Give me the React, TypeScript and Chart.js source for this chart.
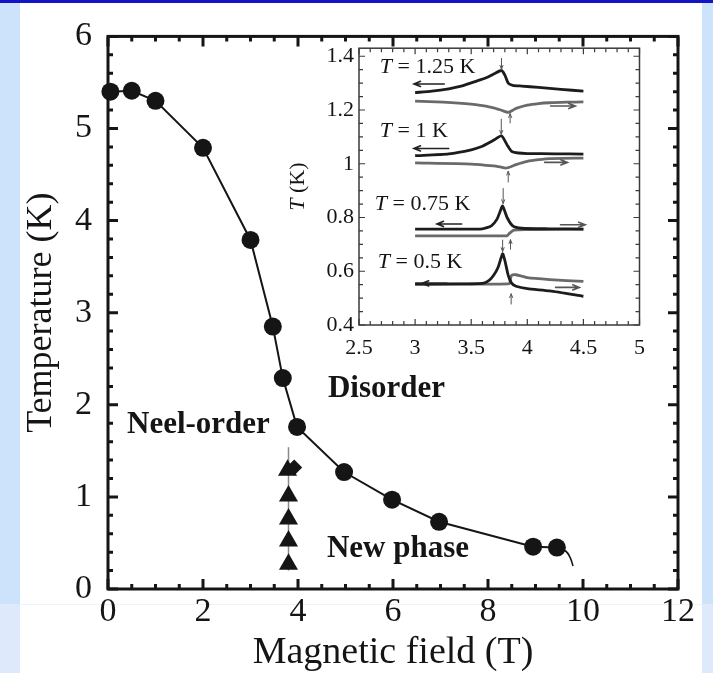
import React, { useEffect, useRef } from "react";
import { Chart, registerables } from "chart.js";

Chart.register(...registerables);

const SERIF = "'Liberation Serif', 'Times New Roman', serif";
const INK = "#151515";

// ---------- Main phase diagram ----------
const X_TICKS = [0, 2, 4, 6, 8, 10, 12];
const Y_TICKS = [0, 1, 2, 3, 4, 5, 6];

// Phase boundary of the ordered state (filled circles)
const BOUNDARY_FIELD = [0.05, 0.5, 1, 2, 3, 3.47, 3.68, 3.98, 4.97, 5.98, 6.97, 8.95, 9.45];
const BOUNDARY_TEMP = [5.4, 5.41, 5.3, 4.79, 3.79, 2.85, 2.29, 1.76, 1.27, 0.97, 0.73, 0.46, 0.45];

// Continuation of the boundary beyond the last measured point
const TAIL_FIELD = [9.45, 9.64, 9.73, 9.79];
const TAIL_TEMP = [0.45, 0.41, 0.34, 0.25];

// New-phase boundary (triangles) and the extra point at the top of the column
const NEW_FIELD = [3.8, 3.8, 3.8, 3.8, 3.78];
const NEW_TEMP = [0.27, 0.52, 0.76, 1.01, 1.29];
const EXTRA_FIELD = [3.92];
const EXTRA_TEMP = [1.32];
const GUIDE_FIELD = [3.8, 3.8];
const GUIDE_TEMP = [0.2, 1.54];

const REGION_LABELS = [
  { text: "Neel-order", x: 0.4, y: 1.785 },
  { text: "Disorder", x: 4.63, y: 2.175 },
  { text: "New phase", x: 4.61, y: 0.433 },
];

// ---------- Inset: field sweeps at fixed temperature ----------
const INSET_X_TICKS = [2.5, 3, 3.5, 4, 4.5, 5];
const INSET_X_LABELS = ["2.5", "3", "3.5", "4", "4.5", "5"];
const INSET_Y_TICKS = [0.4, 0.6, 0.8, 1.0, 1.2, 1.4];
const INSET_Y_LABELS = ["0.4", "0.6", "0.8", "1", "1.2", "1.4"];

// T = 1.25 K
const H_125_DOWN = [3.0, 3.15, 3.3, 3.42, 3.5, 3.58, 3.65, 3.71, 3.77, 3.8, 3.83, 3.87, 3.95, 4.1, 4.3, 4.5];
const T_125_DOWN = [1.265, 1.27, 1.279, 1.29, 1.301, 1.312, 1.323, 1.336, 1.347, 1.33, 1.3, 1.292, 1.289, 1.284, 1.277, 1.27];
const H_125_UP = [3.0, 3.25, 3.5, 3.6, 3.7, 3.77, 3.83, 3.87, 3.9, 4.0, 4.1, 4.2, 4.35, 4.5];
const T_125_UP = [1.233, 1.229, 1.222, 1.216, 1.208, 1.199, 1.191, 1.199, 1.206, 1.218, 1.224, 1.227, 1.229, 1.23];

// T = 1 K
const H_100_DOWN = [3.0, 3.3, 3.5, 3.6, 3.65, 3.71, 3.77, 3.82, 3.86, 3.92, 4.0, 4.25, 4.5];
const T_100_DOWN = [1.03, 1.037, 1.052, 1.065, 1.076, 1.09, 1.104, 1.07, 1.046, 1.04, 1.038, 1.037, 1.036];
const H_100_UP = [3.0, 3.5, 3.7, 3.76, 3.81, 3.86, 3.9, 4.0, 4.1, 4.2, 4.5];
const T_100_UP = [1.003, 0.999, 0.992, 0.988, 0.984, 0.99, 0.997, 1.009, 1.015, 1.019, 1.021];

// T = 0.75 K
const H_075_DOWN = [3.0, 3.3, 3.6, 3.68, 3.73, 3.76, 3.78, 3.82, 3.87, 3.95, 4.2, 4.5];
const T_075_DOWN = [0.757, 0.757, 0.758, 0.769, 0.794, 0.825, 0.843, 0.8, 0.769, 0.76, 0.758, 0.757];
const H_075_UP = [3.0, 3.4, 3.82, 3.84, 3.88, 4.0, 4.5];
const T_075_UP = [0.732, 0.732, 0.732, 0.741, 0.753, 0.755, 0.757];

// T = 0.5 K
const H_050_DOWN = [3.0, 3.3, 3.6, 3.66, 3.7, 3.74, 3.78, 3.8, 3.83, 3.86, 3.9, 4.0, 4.2, 4.5];
const T_050_DOWN = [0.554, 0.553, 0.555, 0.566, 0.585, 0.615, 0.665, 0.64, 0.585, 0.556, 0.544, 0.535, 0.527, 0.507];
const H_050_UP = [3.0, 3.4, 3.84, 3.85, 3.86, 3.9, 4.0, 4.2, 4.5];
const T_050_UP = [0.55, 0.552, 0.554, 0.572, 0.585, 0.587, 0.576, 0.569, 0.562];

const SWEEP_LABELS = [
  { temp: "1.25", x: 2.685, y: 1.359 },
  { temp: "1", x: 2.685, y: 1.12 },
  { temp: "0.75", x: 2.641, y: 0.85 },
  { temp: "0.5", x: 2.667, y: 0.632 },
];

// Sweep direction arrows: [fromH, toH, T]
const DOWN_SWEEP_ARROWS = [
  [3.26, 2.99, 1.297],
  [3.3, 2.99, 1.057],
  [3.415, 3.195, 0.776],
  [3.283, 3.063, 0.555],
];
const UP_SWEEP_ARROWS = [
  [4.208, 4.428, 1.215],
  [4.155, 4.357, 1.005],
  [4.296, 4.516, 0.773],
  [4.252, 4.463, 0.54],
];
// Small pointers at the anomalies: [H, fromT, toT]
const ANOMALY_POINTERS = [
  [3.77, 1.392, 1.352],
  [3.847, 1.152, 1.186],
  [3.768, 1.166, 1.11],
  [3.83, 0.932, 0.972],
  [3.785, 0.908, 0.852],
  [3.85, 0.682, 0.717],
  [3.78, 0.716, 0.674],
  [3.856, 0.478, 0.516],
];

const zip = (xs: number[], ys: number[]) => xs.map((x, i) => ({ x, y: ys[i] }));

type FrameSpec = {
  color: string;
  frameWidth: number;
  tickWidth: number;
  majorLen: number;
  minorLen: number;
  xMajor: number;
  xMinor: number;
  yMajor: number;
  yMinor: number;
};

function drawFrame(chart: any, spec: FrameSpec) {
  const { ctx, chartArea: a } = chart;
  const xs = chart.scales.x;
  const ys = chart.scales.y;
  ctx.save();
  ctx.strokeStyle = spec.color;
  ctx.lineWidth = spec.tickWidth;
  ctx.lineCap = "butt";
  const isMajor = (v: number, min: number, step: number) => {
    const q = (v - min) / step;
    return Math.abs(q - Math.round(q)) < 1e-6;
  };
  const nx = Math.round((xs.max - xs.min) / spec.xMinor);
  for (let i = 0; i <= nx; i++) {
    const v = xs.min + i * spec.xMinor;
    const px = xs.getPixelForValue(v);
    const len = isMajor(v, xs.min, spec.xMajor) ? spec.majorLen : spec.minorLen;
    ctx.beginPath();
    ctx.moveTo(px, a.bottom);
    ctx.lineTo(px, a.bottom - len);
    ctx.moveTo(px, a.top);
    ctx.lineTo(px, a.top + len);
    ctx.stroke();
  }
  const ny = Math.floor((ys.max - ys.min) / spec.yMinor + 1e-6);
  for (let i = 0; i <= ny; i++) {
    const v = ys.min + i * spec.yMinor;
    const py = ys.getPixelForValue(v);
    const len = isMajor(v, ys.min, spec.yMajor) ? spec.majorLen : spec.minorLen;
    ctx.beginPath();
    ctx.moveTo(a.left, py);
    ctx.lineTo(a.left + len, py);
    ctx.moveTo(a.right, py);
    ctx.lineTo(a.right - len, py);
    ctx.stroke();
  }
  ctx.lineWidth = spec.frameWidth;
  ctx.strokeRect(a.left, a.top, a.right - a.left, a.bottom - a.top);
  ctx.restore();
}

// Writes an italic "T" followed by upright text
function drawItalicT(ctx: CanvasRenderingContext2D, x: number, y: number, rest: string, size: number, align: "left" | "center") {
  ctx.font = `italic ${size}px ${SERIF}`;
  const wT = ctx.measureText("T").width;
  ctx.font = `${size}px ${SERIF}`;
  const wR = ctx.measureText(rest).width;
  let start = x;
  if (align === "center") start = x - (wT + wR) / 2;
  ctx.textAlign = "left";
  ctx.textBaseline = "middle";
  ctx.font = `italic ${size}px ${SERIF}`;
  ctx.fillText("T", start, y);
  ctx.font = `${size}px ${SERIF}`;
  ctx.fillText(rest, start + wT, y);
}

function drawArrow(ctx: CanvasRenderingContext2D, x1: number, y1: number, x2: number, y2: number, head: number) {
  const ang = Math.atan2(y2 - y1, x2 - x1);
  ctx.beginPath();
  ctx.moveTo(x1, y1);
  ctx.lineTo(x2, y2);
  ctx.moveTo(x2 - head * Math.cos(ang - 0.38), y2 - head * Math.sin(ang - 0.38));
  ctx.lineTo(x2, y2);
  ctx.lineTo(x2 - head * Math.cos(ang + 0.38), y2 - head * Math.sin(ang + 0.38));
  ctx.stroke();
}

const mainDecor = {
  id: "mainDecor",
  beforeDatasetsDraw(chart: any) {
    drawFrame(chart, {
      color: INK,
      frameWidth: 3,
      tickWidth: 3,
      majorLen: 10,
      minorLen: 5,
      xMajor: 2,
      xMinor: 0.5,
      yMajor: 1,
      yMinor: 0.2,
    });
  },
  afterDatasetsDraw(chart: any) {
    const { ctx } = chart;
    const xs = chart.scales.x;
    const ys = chart.scales.y;
    ctx.save();
    ctx.fillStyle = INK;
    ctx.font = `bold 31px ${SERIF}`;
    ctx.textAlign = "left";
    ctx.textBaseline = "middle";
    for (const l of REGION_LABELS) {
      ctx.fillText(l.text, xs.getPixelForValue(l.x), ys.getPixelForValue(l.y));
    }
    ctx.restore();
  },
};

const insetDecor = {
  id: "insetDecor",
  beforeDatasetsDraw(chart: any) {
    drawFrame(chart, {
      color: "#3a3a3a",
      frameWidth: 1.5,
      tickWidth: 1.2,
      majorLen: 6,
      minorLen: 4,
      xMajor: 0.5,
      xMinor: 0.1,
      yMajor: 0.2,
      yMinor: 0.05,
    });
  },
  afterDatasetsDraw(chart: any) {
    const { ctx, chartArea: a } = chart;
    const xs = chart.scales.x;
    const ys = chart.scales.y;
    const px = (v: number) => xs.getPixelForValue(v);
    const py = (v: number) => ys.getPixelForValue(v);
    ctx.save();
    ctx.lineCap = "round";
    // sweep-direction arrows
    ctx.lineWidth = 1.6;
    ctx.strokeStyle = "#222";
    for (const [h1, h2, t] of DOWN_SWEEP_ARROWS) drawArrow(ctx, px(h1), py(t), px(h2), py(t), 7);
    ctx.strokeStyle = "#555";
    for (const [h1, h2, t] of UP_SWEEP_ARROWS) drawArrow(ctx, px(h1), py(t), px(h2), py(t), 7);
    // anomaly pointers
    ctx.lineWidth = 1;
    ctx.strokeStyle = "#555";
    for (const [h, t1, t2] of ANOMALY_POINTERS) drawArrow(ctx, px(h), py(t1), px(h), py(t2), 4);
    // temperature labels
    ctx.fillStyle = INK;
    for (const l of SWEEP_LABELS) drawItalicT(ctx, px(l.x), py(l.y), ` = ${l.temp} K`, 22, "left");
    // axis title
    ctx.translate(a.left - 61, (a.top + a.bottom) / 2);
    ctx.rotate(-Math.PI / 2);
    drawItalicT(ctx, 0, 0, " (K)", 22, "center");
    ctx.restore();
  },
};

function mainConfig(): any {
  return {
    type: "scatter",
    data: {
      datasets: [
        {
          data: zip(BOUNDARY_FIELD, BOUNDARY_TEMP),
          showLine: true,
          borderColor: INK,
          borderWidth: 2,
          pointRadius: 9,
          pointBackgroundColor: INK,
          pointBorderWidth: 0,
          clip: false,
          order: 1,
        },
        {
          data: zip(TAIL_FIELD, TAIL_TEMP),
          showLine: true,
          borderColor: INK,
          borderWidth: 1.6,
          tension: 0.4,
          pointRadius: 0,
          clip: false,
          order: 2,
        },
        {
          data: zip(NEW_FIELD, NEW_TEMP),
          showLine: false,
          pointStyle: "triangle",
          pointRadius: 11,
          pointBackgroundColor: INK,
          pointBorderWidth: 0,
          clip: false,
          order: 1,
        },
        {
          data: zip(EXTRA_FIELD, EXTRA_TEMP),
          showLine: false,
          pointStyle: "rectRot",
          pointRadius: 8,
          pointBackgroundColor: INK,
          pointBorderWidth: 0,
          clip: false,
          order: 1,
        },
        {
          data: zip(GUIDE_FIELD, GUIDE_TEMP),
          showLine: true,
          borderColor: "#8a8a8a",
          borderWidth: 1.5,
          pointRadius: 0,
          clip: false,
          order: 5,
        },
      ],
    },
    options: {
      responsive: false,
      animation: false,
      events: [],
      layout: { padding: { left: 20, right: 35, top: 21, bottom: 0 } },
      plugins: { legend: { display: false }, tooltip: { enabled: false } },
      scales: {
        x: {
          type: "linear",
          min: 0,
          max: 12,
          afterBuildTicks: (s: any) => {
            s.ticks = X_TICKS.map((v) => ({ value: v }));
          },
          afterFit: (s: any) => {
            s.height = 84;
          },
          grid: { display: false, drawTicks: false },
          border: { display: false },
          ticks: {
            padding: 3,
            color: INK,
            maxRotation: 0,
            autoSkip: false,
            font: { family: SERIF, size: 34 },
            callback: (v: number) => String(v),
          },
          title: {
            display: true,
            text: "Magnetic field (T)",
            color: INK,
            font: { family: SERIF, size: 38, lineHeight: 1 },
            padding: { top: 0, bottom: 1 },
          },
        },
        y: {
          type: "linear",
          min: 0,
          max: 6,
          afterBuildTicks: (s: any) => {
            s.ticks = Y_TICKS.map((v) => ({ value: v }));
          },
          afterFit: (s: any) => {
            s.width = 88;
          },
          grid: { display: false, drawTicks: false },
          border: { display: false },
          ticks: {
            padding: 16,
            color: INK,
            autoSkip: false,
            font: { family: SERIF, size: 34 },
            callback: (v: number) => String(v),
          },
          title: {
            display: true,
            text: "Temperature (K)",
            color: INK,
            font: { family: SERIF, size: 36, lineHeight: 1 },
            padding: { top: 4, bottom: 0 },
          },
        },
      },
    },
    plugins: [mainDecor],
  };
}

function sweep(xs: number[], ys: number[], color: string) {
  return {
    data: zip(xs, ys),
    showLine: true,
    borderColor: color,
    borderWidth: 2.8,
    pointRadius: 0,
    tension: 0.2,
  };
}

function insetConfig(): any {
  const black = "#1c1c1c";
  const gray = "#6a6a6a";
  return {
    type: "scatter",
    data: {
      datasets: [
        sweep(H_125_DOWN, T_125_DOWN, black),
        sweep(H_125_UP, T_125_UP, gray),
        sweep(H_100_DOWN, T_100_DOWN, black),
        sweep(H_100_UP, T_100_UP, gray),
        sweep(H_075_DOWN, T_075_DOWN, black),
        sweep(H_075_UP, T_075_UP, gray),
        sweep(H_050_DOWN, T_050_DOWN, black),
        sweep(H_050_UP, T_050_UP, gray),
      ],
    },
    options: {
      responsive: false,
      animation: false,
      events: [],
      layout: { padding: { left: 0, right: 12, top: 15, bottom: 0 } },
      plugins: { legend: { display: false }, tooltip: { enabled: false } },
      scales: {
        x: {
          type: "linear",
          min: 2.5,
          max: 5,
          afterBuildTicks: (s: any) => {
            s.ticks = INSET_X_TICKS.map((v) => ({ value: v }));
          },
          afterFit: (s: any) => {
            s.height = 40;
          },
          grid: { display: false, drawTicks: false },
          border: { display: false },
          ticks: {
            padding: 10,
            color: INK,
            maxRotation: 0,
            autoSkip: false,
            font: { family: SERIF, size: 22 },
            callback: (_v: number, i: number) => INSET_X_LABELS[i],
          },
        },
        y: {
          type: "linear",
          min: 0.4,
          max: 1.43,
          afterBuildTicks: (s: any) => {
            s.ticks = INSET_Y_TICKS.map((v) => ({ value: v }));
          },
          afterFit: (s: any) => {
            s.width = 79;
          },
          grid: { display: false, drawTicks: false },
          border: { display: false },
          ticks: {
            padding: 5,
            color: INK,
            autoSkip: false,
            font: { family: SERIF, size: 22 },
            callback: (_v: number, i: number) => INSET_Y_LABELS[i],
          },
        },
      },
    },
    plugins: [insetDecor],
  };
}

const abs = (left: number, top: number, width: number, height: number, background: string): React.CSSProperties => ({
  position: "absolute",
  left,
  top,
  width,
  height,
  background,
});

export default function App() {
  const mainRef = useRef<HTMLCanvasElement>(null);
  const insetRef = useRef<HTMLCanvasElement>(null);

  useEffect(() => {
    const main = new Chart(mainRef.current as HTMLCanvasElement, mainConfig());
    const inset = new Chart(insetRef.current as HTMLCanvasElement, insetConfig());
    return () => {
      main.destroy();
      inset.destroy();
    };
  }, []);

  return (
    <div style={{ position: "absolute", left: 0, top: 0, width: 713, height: 673, background: "#ffffff", overflow: "hidden" }}>
      <div style={abs(0, 0, 20, 604, "#cde2fb")} />
      <div style={abs(0, 604, 20, 69, "#deeafb")} />
      <div style={abs(702, 0, 11, 604, "#cde2fb")} />
      <div style={abs(702, 604, 11, 69, "#deeafb")} />
      <div style={abs(20, 604, 682, 1, "#edf3fc")} />
      <div style={abs(0, 0, 713, 3, "#1414c4")} />
      <canvas ref={mainRef} width={713} height={673} style={{ position: "absolute", left: 0, top: 0 }} />
      <canvas ref={insetRef} width={375} height={335} style={{ position: "absolute", left: 280, top: 30 }} />
    </div>
  );
}
